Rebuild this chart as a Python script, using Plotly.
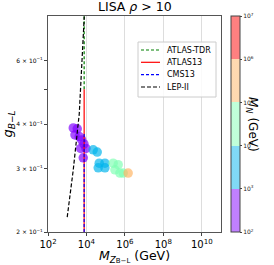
import numpy as np
import plotly.graph_objects as go

# ---- data ----
M_zp = [2060, 3320, 2530, 4230, 5640, 7410, 5000, 9420, 6820,
        22500, 36400, 46200, 91400, 41000, 91400,
        246000, 449000, 303000, 550000, 817000, 1480000]
g_bl = [0.390, 0.388, 0.373, 0.369, 0.361, 0.352, 0.342, 0.342, 0.322,
        0.339, 0.334, 0.311, 0.311, 0.302, 0.302,
        0.311, 0.308, 0.298, 0.292, 0.292, 0.292]
M_N = [316, 316, 316, 316, 316, 316, 316, 316, 316,
       3162, 3162, 3162, 3162, 3162, 3162,
       31620, 31620, 31620, 31620, 31620, 200000]

atlas_tdr_M = [7600, 7600]
atlas_tdr_g = [0.50, 0.80]
atlas13_M = [7600, 7600]
atlas13_g = [0.20, 0.50]
cms13_M = [7600, 7600]
cms13_g = [0.20, 0.375]
lep_M = [1000, 2060, 4230, 7690]
lep_g = [0.220, 0.298, 0.427, 0.797]

line_names = ["ATLAS-TDR", "ATLAS13", "CMS13", "LEP-II"]

x_tickvals = [1e2, 1e4, 1e6, 1e8, 1e10]
x_ticktext = ["10<sup>2</sup>", "10<sup>4</sup>", "10<sup>6</sup>", "10<sup>8</sup>", "10<sup>10</sup>"]
y_tickvals = [0.2, 0.3, 0.4, 0.5, 0.6]
y_ticktext = ["2 × 10<sup>−1</sup>", "3 × 10<sup>−1</sup>", "4 × 10<sup>−1</sup>", "", "6 × 10<sup>−1</sup>"]
cb_range = [2, 7]
cb_tickvals = [2, 3, 4, 5, 6, 7]
cb_ticktext = ["10<sup>2</sup>", "10<sup>3</sup>", "10<sup>4</sup>", "10<sup>5</sup>", "10<sup>6</sup>", "10<sup>7</sup>"]

bin_rgb = [(128, 0, 255), (0, 180, 236), (128, 255, 180), (255, 180, 98), (255, 0, 0)]


def stepped(alpha):
    cs = []
    for i, (r, g, b) in enumerate(bin_rgb):
        c = f"rgba({r},{g},{b},{alpha})"
        cs.append([i / 5, c])
        cs.append([(i + 1) / 5, c])
    return cs


FONT = "DejaVu Sans"
L, R, T, B = 48, 53, 16, 33
W, H = 274, 265
PW = W - L - R
PH = H - T - B


def px_x(p):
    return (p - L) / PW


def px_y(p):
    return (H - B - p) / PH


styles = [dict(color="green", width=1.2, dash="3px,2px"),
          dict(color="red", width=1.2),
          dict(color="blue", width=1.2, dash="3px,2px"),
          dict(color="black", width=1.2, dash="4px,2px")]
series = [(atlas_tdr_M, atlas_tdr_g), (atlas13_M, atlas13_g), (cms13_M, cms13_g), (lep_M, lep_g)]

fig = go.Figure()

# points
fig.add_trace(go.Scatter(
    x=M_zp, y=g_bl, mode="markers", showlegend=False,
    marker=dict(size=9.5, color=np.log10(M_N), colorscale=stepped(1.0),
                cmin=cb_range[0], cmax=cb_range[1], opacity=0.68,
                line=dict(width=0), showscale=False),
))

for (xs, ys), name, st in zip(series, line_names, styles):
    fig.add_trace(go.Scatter(x=xs, y=ys, mode="lines", name=name, showlegend=False,
                             line=st))

# colour bar (semi-transparent bins, as in the reference)
fig.add_trace(go.Scatter(
    x=[None, None], y=[None, None], mode="markers", showlegend=False, hoverinfo="skip",
    marker=dict(color=cb_range, colorscale=stepped(0.5), cmin=cb_range[0], cmax=cb_range[1],
                showscale=True,
                colorbar=dict(x=px_x(231), xanchor="left", xref="paper",
                              y=0.5, yanchor="middle", len=1.0, lenmode="fraction",
                              thickness=9, outlinewidth=1, outlinecolor="#444",
                              tickvals=cb_tickvals, ticktext=cb_ticktext,
                              tickfont=dict(size=6, family=FONT, color="#222"),
                              ticks="outside", ticklen=2, xpad=0, ypad=0)),
))

# legend box (compact, like the reference)
shapes = [dict(type="rect", xref="paper", yref="paper",
               x0=px_x(138), x1=px_x(216), y0=px_y(97), y1=px_y(42),
               line=dict(color="#cccccc", width=1), fillcolor="rgba(255,255,255,0.85)",
               layer="above")]
annotations = []
row_y = [50, 62.3, 74.7, 87]
for name, st, ry in zip(line_names, styles, row_y):
    shapes.append(dict(type="line", xref="paper", yref="paper",
                       x0=px_x(141), x1=px_x(160), y0=px_y(ry), y1=px_y(ry),
                       line=st, layer="above"))
    annotations.append(dict(text=name, x=px_x(165), y=px_y(ry), xref="paper", yref="paper",
                            xanchor="left", yanchor="middle", showarrow=False,
                            font=dict(size=8, family=FONT)))

annotations += [
    dict(text="LISA <i>ρ</i> > 10", x=0.5, y=1, xref="paper", yref="paper",
         xanchor="center", yanchor="bottom", yshift=0, showarrow=False,
         font=dict(size=12.5, family=FONT)),
    dict(text="<i>M</i><sub><i>N</i></sub> (GeV)", x=px_x(262), y=0.5,
         xref="paper", yref="paper",
         showarrow=False, textangle=90, font=dict(size=12, family=FONT)),
]

fig.update_layout(
    width=W, height=H,
    margin=dict(l=L, r=R, t=T, b=B, autoexpand=False),
    paper_bgcolor="white", plot_bgcolor="white",
    font=dict(family=FONT, color="black"),
    showlegend=False,
    shapes=shapes,
    annotations=annotations,
    xaxis=dict(type="log", range=[2, 11], tickvals=x_tickvals, ticktext=x_ticktext,
               tickfont=dict(size=10, family=FONT), ticks="outside", ticklen=3,
               showgrid=True, gridcolor="#dddddd", gridwidth=1.3, automargin=False,
               showline=True, linecolor="#555", linewidth=1, mirror=True, zeroline=False,
               title=dict(text="<i>M</i><sub><i>Z</i><span style='font-size:7px'>B−L</span></sub> (GeV)",
                          font=dict(size=12.5, family=FONT), standoff=2)),
    yaxis=dict(type="log", range=[np.log10(0.2), np.log10(0.8)],
               tickvals=y_tickvals, ticktext=y_ticktext, automargin=False,
               tickfont=dict(size=6, family=FONT), ticks="outside", ticklen=3,
               showgrid=False,
               showline=True, linecolor="#555", linewidth=1, mirror=True, zeroline=False,
               title=dict(text="<i>g</i><sub><i>B−L</i></sub>", font=dict(size=13, family=FONT), standoff=2)),
)

fig.write_html("out.html", config={"displayModeBar": False},
               post_script="document.body.style.margin='0';")
